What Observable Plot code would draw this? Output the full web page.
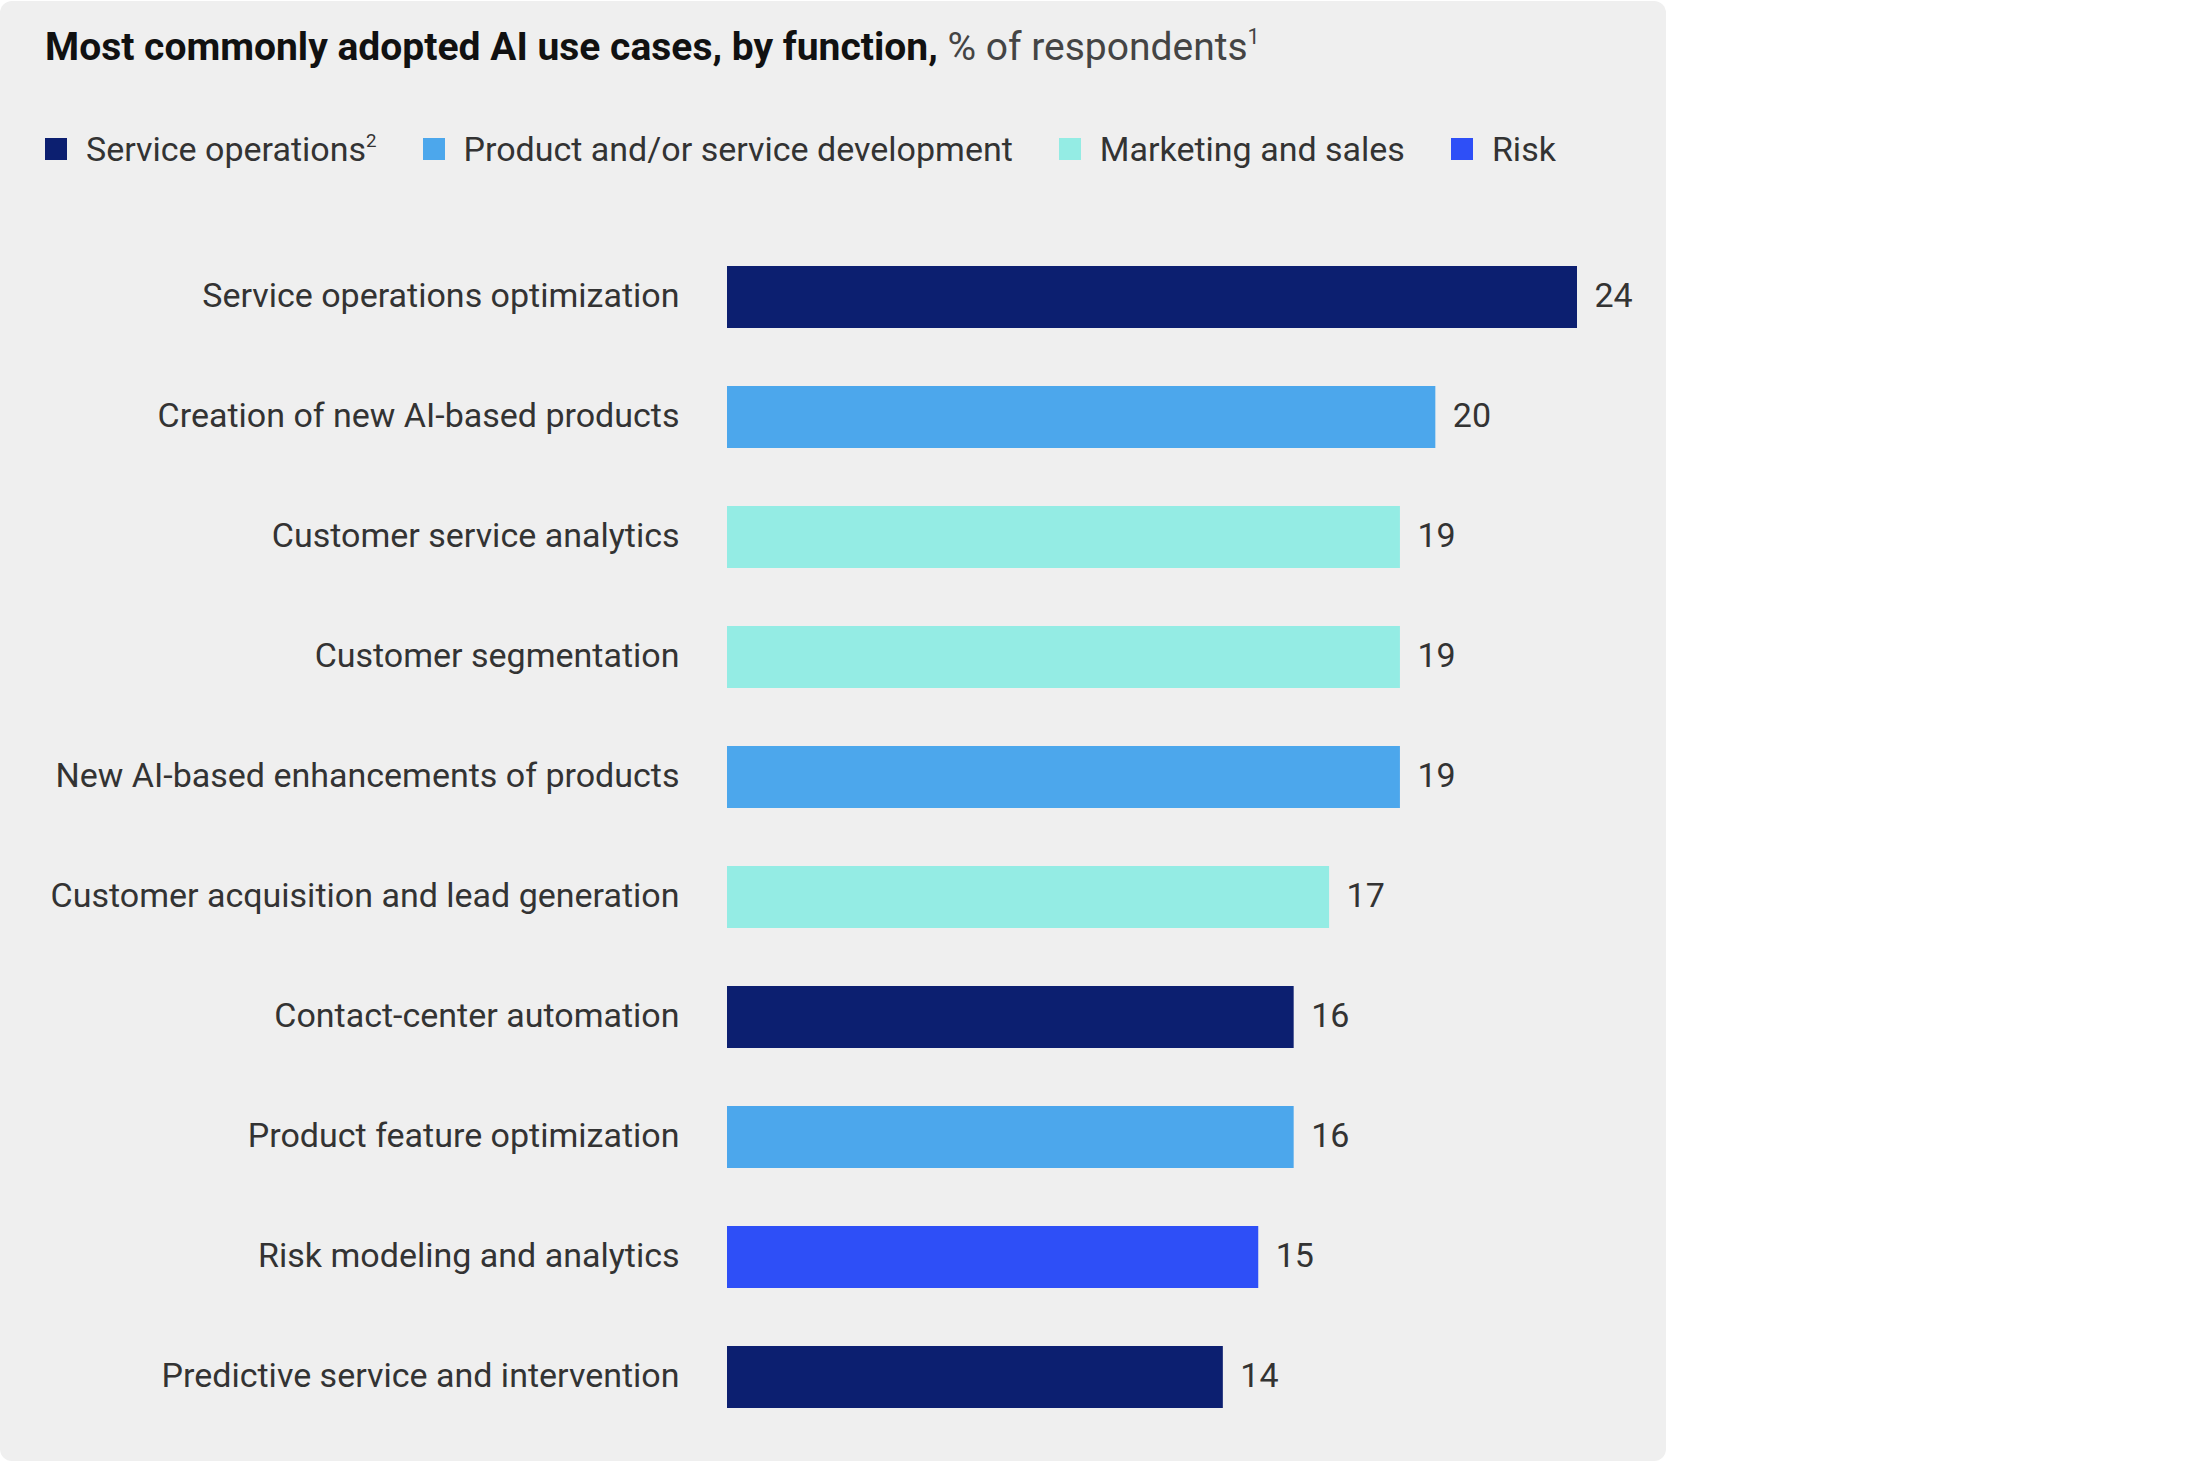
<!DOCTYPE html>
<html>
<head>
<meta charset="utf-8">
<script src="https://cdn.jsdelivr.net/npm/d3@7"></script>
<script src="https://cdn.jsdelivr.net/npm/@observablehq/plot@0.6"></script>
<style>
  html, body { margin: 0; padding: 0; background: #ffffff; }
  body { width: 2208px; height: 1462px; position: relative; font-family: Roboto, "Noto Sans", sans-serif; }
  #panel { position: absolute; left: 0; top: 1px; width: 1666px; height: 1460px; background: #efefef; border-radius: 12px; overflow: hidden; }
  #title { position: absolute; left: 45px; top: 27px; font-size: 39px; line-height: 39px; color: #111; white-space: nowrap; letter-spacing: 0px; }
  #title b { font-weight: 700; }
  #title span { color: #444; }
  sup { font-size: 0.55em; line-height: 0; vertical-align: 0; position: relative; top: -0.75em; }
  #legend { position: absolute; left: 45px; top: 131px; display: flex; align-items: center; font-size: 34px; line-height: 34px; color: #333; white-space: nowrap; }
  .item { display: flex; align-items: center; margin-right: 46px; }
  .lab { height: 34px; }
  .sw { width: 22px; height: 22px; margin-right: 19px; }
  #chart { position: absolute; left: 0; top: 200px; }
</style>
</head>
<body>
<div id="panel">
  <div id="title"></div>
  <div id="legend"></div>
  <div id="chart"></div>
</div>
<script>
// ---- data ----
const categories = [
  "Service operations optimization",
  "Creation of new AI-based products",
  "Customer service analytics",
  "Customer segmentation",
  "New AI-based enhancements of products",
  "Customer acquisition and lead generation",
  "Contact-center automation",
  "Product feature optimization",
  "Risk modeling and analytics",
  "Predictive service and intervention"
];
const values = [24, 20, 19, 19, 19, 17, 16, 16, 15, 14];
const functions = [
  "Service operations",
  "Product and/or service development",
  "Marketing and sales",
  "Marketing and sales",
  "Product and/or service development",
  "Marketing and sales",
  "Service operations",
  "Product and/or service development",
  "Risk",
  "Service operations"
];
const legendLabels = ["Service operations", "Product and/or service development", "Marketing and sales", "Risk"];
const legendNotes = ["2", "", "", ""];
const colors = ["#0c1f70", "#4ca7ec", "#94ece4", "#2e4ff7"];
const titleBold = "Most commonly adopted AI use cases, by function,";
const titleRest = " % of respondents";
const titleNote = "1";

// ---- title & legend ----
document.getElementById("title").innerHTML =
  `<b>${titleBold}</b><span>${titleRest}<sup>${titleNote}</sup></span>`;
const legend = document.getElementById("legend");
legendLabels.forEach((lab, i) => {
  const it = document.createElement("div");
  it.className = "item";
  it.innerHTML = `<div class="sw" style="background:${colors[i]}"></div><div class="lab">${lab}${legendNotes[i] ? `<sup>${legendNotes[i]}</sup>` : ""}</div>`;
  legend.appendChild(it);
});

// ---- chart ----
const data = categories.map((c, i) => ({category: c, value: values[i], fn: functions[i]}));

const chart = Plot.plot({
  width: 1666,
  height: 1262,
  marginLeft: 727,
  marginRight: 89,
  marginTop: 29,
  marginBottom: 18,
  style: {background: "transparent", fontFamily: "Roboto, 'Noto Sans', sans-serif", fontSize: "34px", color: "#333", overflow: "visible"},
  x: {domain: [0, 24], axis: null},
  y: {domain: categories, paddingInner: 0.48, paddingOuter: 0.3, axis: null},
  color: {domain: legendLabels, range: colors},
  marks: [
    Plot.barX(data, {x: "value", y: "category", fill: "fn"}),
    Plot.text(data, {x: "value", y: "category", text: d => String(d.value), textAnchor: "start", dx: 17, dy: -1, fill: "#333", fontSize: 34}),
    Plot.axisY({tickSize: 0, tickPadding: 48, label: null, fontSize: 34, fill: "#333", dy: -1, tickFormat: d => d})
  ]
});
document.getElementById("chart").appendChild(chart);
</script>
</body>
</html>
